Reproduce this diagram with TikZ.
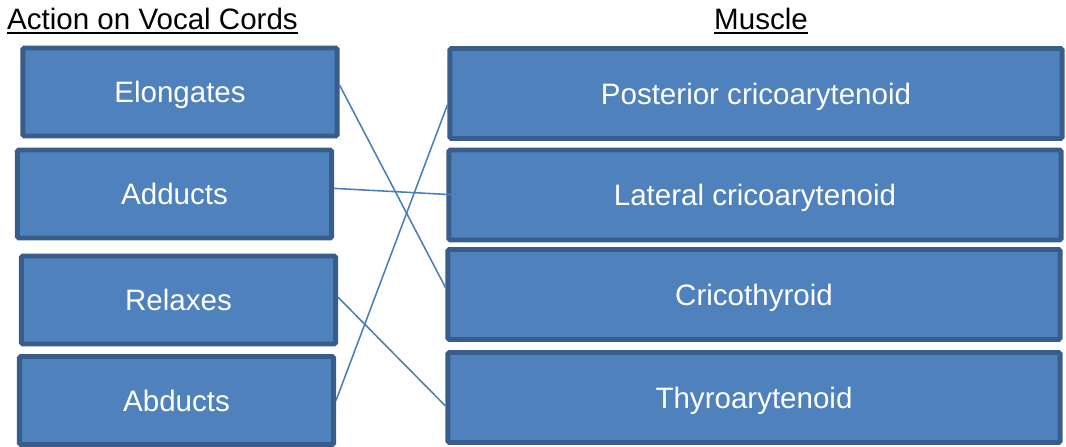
\documentclass[tikz,border=0pt]{standalone}
\usepackage{fontspec}
\setmainfont{Liberation Sans}
\definecolor{boxfill}{HTML}{4F81BD}
\definecolor{boxline}{HTML}{385D8A}
\definecolor{linkblue}{HTML}{4A7EBB}
\tikzset{
  action/.style={draw=boxline, fill=boxfill, line width=3.5pt, rounded corners=1pt,
    minimum width=7.85cm, minimum height=2.2cm, text=white,
    text height=15pt, text depth=0pt,
    font=\fontsize{21}{25}\selectfont},
  muscle/.style={action, minimum width=15.3cm, minimum height=2.25cm},
  heading/.style={inner sep=0pt, anchor=base, font=\fontsize{21}{25}\selectfont},
  link/.style={draw=linkblue, line width=1.1pt}
}
\begin{document}
\begin{tikzpicture}[x=0.025cm, y=-0.025cm]
    \useasboundingbox (0, 0) rectangle (1066, 447);
    \node[heading] (hact) at (152.5, 29) {Action on Vocal Cords};
    \node[heading] (hmus) at (761, 29) {Muscle};
    \draw[line width=1.4pt] ([yshift=-3pt]hact.base west) -- ([yshift=-3pt]hact.base east);
    \draw[line width=1.4pt] ([yshift=-3pt]hmus.base west) -- ([yshift=-3pt]hmus.base east);
    % actions
    \node[action] (elong) at (180, 92) {Elongates};
    \node[action] (add)   at (174.5, 194) {Adducts};
    \node[action] (relax) at (178.5, 300) {Relaxes};
    \node[action] (abd)   at (176.5, 400.5) {Abducts};
    % muscles
    \node[muscle] (post)  at (756, 93.5) {Posterior cricoarytenoid};
    \node[muscle] (lat)   at (755, 195) {Lateral cricoarytenoid};
    \node[muscle] (crico) at (754, 294.5) {Cricothyroid};
    \node[muscle] (thyro) at (754, 397.5) {Thyroarytenoid};
    \draw[link] ([yshift=5pt]elong.east) -- ([yshift=5pt]crico.west);
    \draw[link] ([yshift=4pt]add.east) -- ([xshift=8pt]lat.west);
    \draw[link] ([yshift=2pt]relax.east) -- ([yshift=-6pt]thyro.west);
    \draw[link] (abd.east) -- ([yshift=-8pt]post.west);
\end{tikzpicture}
\end{document}
